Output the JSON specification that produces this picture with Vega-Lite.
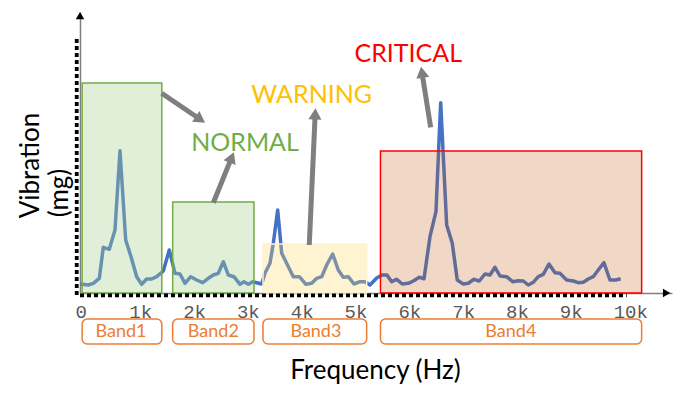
{
  "$schema": "https://vega.github.io/schema/vega-lite/v6.json",
  "width": 592,
  "height": 281,
  "autosize": {"type": "none"},
  "padding": {"left": 80, "top": 12, "right": 10, "bottom": 106},
  "background": "white",
  "config": {"view": {"stroke": null}},
  "datasets": {
    "spectrum": [
      {"f":13,"v":9},{"f":154,"v":8},{"f":247,"v":9.7},{"f":359,"v":14.7},{"f":433,"v":45.7},{"f":544,"v":43.7},{"f":650,"v":63},{"f":743,"v":142.3},{"f":849,"v":53},{"f":948,"v":36.3},{"f":1053,"v":16.3},{"f":1146,"v":8.7},{"f":1239,"v":14},{"f":1332,"v":14},{"f":1425,"v":16.3},{"f":1548,"v":22},{"f":1659,"v":43},{"f":1765,"v":19.7},{"f":1858,"v":19},{"f":1951,"v":9.7},{"f":2057,"v":16.3},{"f":2168,"v":13},{"f":2280,"v":10.3},{"f":2384,"v":14.7},{"f":2477,"v":18},{"f":2570,"v":19.7},{"f":2662,"v":31.3},{"f":2755,"v":18},{"f":2861,"v":16.3},{"f":2973,"v":8.7},{"f":3047,"v":11.3},{"f":3127,"v":8.7},{"f":3209,"v":11.3},{"f":3283,"v":10.3},{"f":3376,"v":9},{"f":3437,"v":19.7},{"f":3530,"v":29.7},{"f":3592,"v":49.7},{"f":3673,"v":83},{"f":3748,"v":39.7},{"f":3840,"v":29.7},{"f":3963,"v":16.3},{"f":4075,"v":16.3},{"f":4199,"v":8.7},{"f":4305,"v":9.7},{"f":4398,"v":14.7},{"f":4491,"v":16.3},{"f":4584,"v":28},{"f":4695,"v":39},{"f":4799,"v":23},{"f":4892,"v":15.7},{"f":4985,"v":16.3},{"f":5091,"v":9},{"f":5202,"v":11.3},{"f":5295,"v":11.3},{"f":5388,"v":8},{"f":5513,"v":15},{"f":5611,"v":18},{"f":5704,"v":18},{"f":5791,"v":11.3},{"f":5884,"v":13.7},{"f":5988,"v":9},{"f":6100,"v":9.7},{"f":6193,"v":12},{"f":6304,"v":15.7},{"f":6392,"v":14.3},{"f":6503,"v":56.3},{"f":6614,"v":81.3},{"f":6702,"v":190.3},{"f":6813,"v":68},{"f":6917,"v":49.7},{"f":7010,"v":13},{"f":7122,"v":9},{"f":7215,"v":9.7},{"f":7321,"v":13.7},{"f":7419,"v":12},{"f":7525,"v":19},{"f":7618,"v":18},{"f":7711,"v":25.7},{"f":7804,"v":17},{"f":7928,"v":16.3},{"f":8040,"v":11.3},{"f":8144,"v":12.3},{"f":8237,"v":12},{"f":8329,"v":8},{"f":8422,"v":10.7},{"f":8515,"v":16.3},{"f":8608,"v":18.7},{"f":8714,"v":29},{"f":8826,"v":20.3},{"f":8918,"v":19.7},{"f":9043,"v":13},{"f":9166,"v":12},{"f":9258,"v":10.3},{"f":9351,"v":10.7},{"f":9444,"v":14},{"f":9537,"v":16.3},{"f":9630,"v":23},{"f":9736,"v":30.3},{"f":9847,"v":13},{"f":9953,"v":13},{"f":10046,"v":14.3}
    ],
    "bands": [
      {"band":"Band1","f":40,"f2":1520,"v":210,"fm":761},
      {"band":"Band2","f":1722,"f2":3233,"v":91,"fm":2478},
      {"band":"Band3","f":3400,"f2":5327,"v":49,"fm":4383},
      {"band":"Band4","f":5583,"f2":10436,"v":142,"fm":8006}
    ],
    "labels": [
      {"label":"NORMAL","f":3066,"v":142.3},
      {"label":"WARNING","f":4305,"v":189.7},
      {"label":"CRITICAL","f":6100,"v":231.3}
    ],
    "arrows": [
      {"f":1518,"v":199.7,"f2":2237,"v2":173.5,"ang":124.2},
      {"f":2477,"v":90.3,"f2":2819,"v2":135.6,"ang":22.1},
      {"f":4260,"v":48,"f2":4370,"v2":179.1,"ang":2.6},
      {"f":6516,"v":165.7,"f2":6353,"v2":220.8,"ang":350.9}
    ],
    "axisheads": [
      {"f":0,"v":277.3,"ang":0},
      {"f":10900,"v":0,"ang":90}
    ],
    "dotted": [
      {"f":-61,"v":254,"f2":-61,"v2":-4},
      {"f":0,"v":-2.3,"f2":10158,"v2":-2.3}
    ],
    "unit": [
      {"t":"(mg)","f":-223,"v":100}
    ]
  },
  "encoding": {
    "x": {"field": "f", "type": "quantitative", "scale": {"domain": [0, 11000], "nice": false, "zero": false},
      "axis": {"values": [0,1000,2000,3000,4000,5000,6000,7000,8000,9000,10000],
        "labelExpr": "datum.value == 0 ? '0' : (datum.value/1000) + 'k'",
        "domain": true, "domainColor": "#808080", "domainWidth": 1.5, "ticks": false, "grid": false,
        "labelAlign": "left", "labelOffset": -5, "labelBaseline": "alphabetic", "labelPadding": 24,
        "labelFont": "Liberation Mono", "labelFontSize": 19, "labelColor": "#595959",
        "labelFlush": false, "labelOverlap": false, "labelBound": false,
        "title": "Frequency (Hz)", "titleFont": "Lato", "titleFontSize": 26, "titleFontWeight": "normal",
        "titleColor": "#000000", "titleX": 295, "titleY": 85, "titleAlign": "center", "titleBaseline": "alphabetic"}},
    "y": {"field": "v", "type": "quantitative", "scale": {"domain": [0, 281], "nice": false, "zero": false},
      "axis": {"domain": true, "domainColor": "#808080", "domainWidth": 1.5, "ticks": false, "labels": false, "grid": false,
        "title": "Vibration", "titleFont": "Lato", "titleFontSize": 26, "titleFontWeight": "normal",
        "titleColor": "#000000", "titleX": -41.7, "titleY": 153, "titleAlign": "center", "titleBaseline": "alphabetic", "titleAngle": 270}}
  },
  "layer": [
    {
      "data": {"name": "spectrum"},
      "mark": {"type": "line", "color": "#4472C4", "strokeWidth": 3.5, "strokeJoin": "round"}
    },
    {
      "data": {"name": "bands"},
      "mark": {"type": "rect", "strokeWidth": 1.5},
      "encoding": {
        "x2": {"field": "f2"},
        "y2": {"datum": 0},
        "fill": {"field": "band", "type": "nominal", "legend": null,
          "scale": {"domain": ["Band1","Band2","Band3","Band4"], "range": ["rgba(169,209,142,0.35)","rgba(169,209,142,0.35)","rgba(255,217,102,0.3)","rgba(197,90,17,0.24)"]}},
        "stroke": {"field": "band", "type": "nominal", "legend": null,
          "scale": {"domain": ["Band1","Band2","Band3","Band4"], "range": ["#70AD47","#70AD47","#FFF2CC","#FF0000"]}}
      }
    },
    {
      "data": {"name": "dotted"},
      "mark": {"type": "rule", "color": "#000000", "strokeWidth": 3.8, "strokeDash": [4, 3]},
      "encoding": {
        "x2": {"field": "f2"},
        "y2": {"field": "v2"}
      }
    },
    {
      "data": {"name": "axisheads"},
      "mark": {"type": "point", "shape": "triangle-up", "size": 72, "filled": true, "color": "#000000", "opacity": 1},
      "encoding": {
        "angle": {"field": "ang", "type": "quantitative", "scale": null}
      }
    },
    {
      "data": {"name": "bands"},
      "mark": {"type": "rect", "fill": "white", "stroke": "#ED7D31", "strokeWidth": 1.5, "cornerRadius": 5},
      "encoding": {
        "x2": {"field": "f2"},
        "y": {"datum": -26, "type": "quantitative", "scale": {"domain": [0, 281], "nice": false, "zero": false}},
        "y2": {"datum": -51}
      }
    },
    {
      "data": {"name": "bands"},
      "mark": {"type": "text", "font": "Lato", "fontSize": 18, "color": "#ED7D31", "align": "center", "baseline": "alphabetic"},
      "encoding": {
        "x": {"field": "fm", "type": "quantitative", "scale": {"domain": [0, 11000], "nice": false, "zero": false}},
        "y": {"datum": -44.3, "type": "quantitative", "scale": {"domain": [0, 281], "nice": false, "zero": false}},
        "text": {"field": "band"}
      }
    },
    {
      "data": {"name": "arrows"},
      "mark": {"type": "rule", "color": "#7F7F7F", "strokeWidth": 5},
      "encoding": {
        "x2": {"field": "f2"},
        "y2": {"field": "v2"}
      }
    },
    {
      "data": {"name": "arrows"},
      "mark": {"type": "point", "shape": "triangle-up", "size": 170, "filled": true, "color": "#7F7F7F", "opacity": 1},
      "encoding": {
        "x": {"field": "f2", "type": "quantitative", "scale": {"domain": [0, 11000], "nice": false, "zero": false}},
        "y": {"field": "v2", "type": "quantitative", "scale": {"domain": [0, 281], "nice": false, "zero": false}},
        "angle": {"field": "ang", "type": "quantitative", "scale": null}
      }
    },
    {
      "data": {"name": "labels"},
      "mark": {"type": "text", "font": "Lato", "fontSize": 25, "align": "center", "baseline": "alphabetic"},
      "encoding": {
        "text": {"field": "label"},
        "color": {"field": "label", "type": "nominal", "legend": null,
          "scale": {"domain": ["NORMAL","WARNING","CRITICAL"], "range": ["#70AD47","#FFC000","#FF0000"]}}
      }
    },
    {
      "data": {"name": "unit"},
      "mark": {"type": "text", "font": "Lato", "fontSize": 26, "color": "#000000", "align": "center", "baseline": "alphabetic", "angle": 270},
      "encoding": {
        "text": {"field": "t"}
      }
    }
  ]
}
